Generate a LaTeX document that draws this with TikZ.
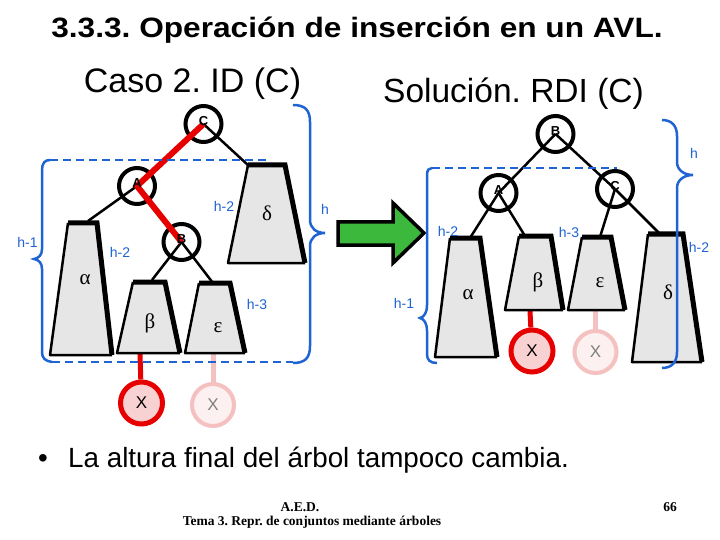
\documentclass[tikz,border=0pt]{standalone}
\usepackage{fontspec}
\usetikzlibrary{backgrounds}
\setmainfont{Liberation Sans}
\newfontfamily\arialf{Liberation Sans}
\newfontfamily\serif{Liberation Serif}
\frenchspacing
\definecolor{hblue}{RGB}{30,100,210}
\definecolor{arrowgreen}{RGB}{60,185,60}
\definecolor{treegray}{RGB}{230,230,230}
\definecolor{xred}{RGB}{230,0,0}
\definecolor{xpink}{RGB}{248,210,210}
\definecolor{fadeborder}{RGB}{245,192,192}
\definecolor{fadefill}{RGB}{252,240,240}
\tikzset{
  treefill/.style={fill=treegray},
  treethin/.style={draw=black,line width=2.5pt,line join=round},
  treethick/.style={draw=black,line width=5pt,line join=miter},
  greek/.style={font=\serif\fontsize{21}{21}\selectfont,inner sep=0pt},
  treenode/.style={circle,draw=black,line width=4pt,minimum size=36pt,inner sep=0pt},
  nodelabel/.style={font=\arialf\bfseries\fontsize{13}{13}\selectfont,inner sep=0pt,yshift=2.5pt},
  xnode/.style={circle,draw=xred,fill=xpink,line width=5pt,minimum size=42pt,inner sep=0pt,font=\arialf\fontsize{17}{17}\selectfont},
  xfaded/.style={circle,draw=fadeborder,fill=fadefill,line width=4pt,minimum size=42pt,inner sep=0pt,text=gray,font=\arialf\fontsize{17}{17}\selectfont},
  blackedge/.style={draw=black,line width=2.5pt},
  rededge/.style={draw=xred,line width=6pt},
  redstem/.style={draw=xred,line width=5pt},
  fadestem/.style={draw=fadeborder,line width=5pt},
  hbrace/.style={draw=hblue,line width=2.5pt},
  hdash/.style={draw=hblue,line width=2.5pt,dash pattern=on 8pt off 5pt},
  hlabel/.style={text=hblue,font=\arialf\fontsize{14}{14}\selectfont,inner sep=0pt}
}
% #1 name #2 tlx #3 trx #4 ty #5 blx #6 brx #7 by #8 label pos #9 label
\newcommand\subtree[9]{%
  \path[treefill] (#2,#4) -- (#3,#4) -- (#6,#7) -- (#5,#7) -- cycle;
  \draw[treethin] (#2,#4) -- (#5,#7) -- (#6,#7);
  \draw[treethick] (#2,#4) -- (#3,#4) -- (#6,#7);
  \node[greek] (#1) at (#8) {#9};
}
\begin{document}
\begin{tikzpicture}[x=1pt,y=-1pt]
\useasboundingbox (0,0) rectangle (720,540);
\begin{pgfonlayer}{background}
\fill[white] (0,0) rectangle (720,540);
\end{pgfonlayer}

% titles
\node[anchor=base,font=\arialf\bfseries\fontsize{28}{30}\selectfont,xscale=1.13,inner sep=0pt] (title) at (357,38) {3.3.3. Operación de inserción en un AVL.};
\node[anchor=base,font=\arialf\fontsize{34}{36}\selectfont,inner sep=0pt] (caso) at (192.5,93) {Caso 2. ID (C)};
\node[anchor=base,font=\arialf\fontsize{33.5}{36}\selectfont,inner sep=0pt] (sol) at (513.5,103) {Solución. RDI (C)};

% ===== left tree =====
\subtree{la}{68}{97}{223}{50}{112}{355}{85,280}{α}
\subtree{lb}{133}{165}{282}{117}{180}{353}{150,323}{β}
\subtree{le}{199}{230}{283}{185}{245}{353}{218,328}{ε}
\subtree{ld}{248}{285}{165}{228}{305}{263}{267,213}{δ}

\coordinate (laT) at (88,221);
\coordinate (lbT) at (152,280);
\coordinate (leT) at (213,283);
\coordinate (ldT) at (249,166);
\coordinate (lbB) at (140,354);
\coordinate (leB) at (213,354);

\node[treenode] (lC) at (203.5,124) {};
\node[treenode] (lA) at (137,186) {};
\node[treenode] (lB) at (181.5,242) {};

\draw[blackedge] (lC.center) -- (ldT);
\draw[blackedge] (lA.center) -- (laT);
\draw[blackedge] (lB.center) -- (lbT);
\draw[blackedge] (lB.center) -- (leT);
\draw[rededge] (lC.center) -- (lA.center) -- (lB.center);

\node[nodelabel] (lCl) at (lC) {C};
\node[nodelabel] (lAl) at (lA) {A};
\node[nodelabel] (lBl) at (lB) {B};

\node[xnode] (lX) at (141.5,403) {X};
\node[xfaded] (lXf) at (213,405) {X};
\begin{pgfonlayer}{background}
\draw[redstem] (lbB) -- (lX);
\draw[fadestem] (leB) -- (lXf);
\end{pgfonlayer}

% braces left
\draw[hbrace] (50,160) .. controls (45,160) and (42,163) .. (42,170) -- (42,249)
  .. controls (42,255) and (39,258) .. (34,259)
  .. controls (39,260) and (42,263) .. (42,269) -- (42,352)
  .. controls (42,358) and (45,361) .. (52,362);
\draw[hdash] (50,160) -- (270,160);
\draw[hdash] (52,362) -- (293,362);
\draw[hbrace] (293,105) .. controls (305,105) and (310,110) .. (310,122) -- (310,220)
  .. controls (310,228) and (316,233) .. (325,233)
  .. controls (316,233) and (310,238) .. (310,246) -- (310,346)
  .. controls (310,358) and (305,363) .. (293,363);

\node[hlabel] (lh1) at (27.5,242) {h-1};
\node[hlabel] (lh2a) at (120,252) {h-2};
\node[hlabel] (lh2d) at (224,206) {h-2};
\node[hlabel] (lh3) at (257,304) {h-3};
\node[hlabel] (lh) at (325,209) {h};

% green arrow
\draw[fill=arrowgreen,draw=black,line width=3.5pt,line join=miter]
  (338,222) -- (393,222) -- (393,203) -- (424,233) -- (393,263) -- (393,245) -- (338,245) -- cycle;

% ===== right tree =====
\subtree{ra}{450}{480}{238}{435}{497}{357}{468,295}{α}
\subtree{rb}{519}{551}{236}{505}{563}{310}{538,282}{β}
\subtree{re}{582}{611}{237}{568}{625}{310}{600,283}{ε}
\subtree{rd}{648}{683}{234}{632}{702}{362}{668,292}{δ}

\coordinate (raT) at (470,238);
\coordinate (rbT) at (525,236);
\coordinate (reT) at (600,237);
\coordinate (rdT) at (660,234);
\coordinate (rbB) at (530,311);
\coordinate (reB) at (595.5,311);

\node[treenode] (rB) at (555.5,134) {};
\node[treenode] (rA) at (498.5,193) {};
\node[treenode] (rC) at (615,189) {};

\draw[blackedge] (rB.center) -- (rA.center);
\draw[blackedge] (rB.center) -- (rC.center);
\draw[blackedge] (rA.center) -- (raT);
\draw[blackedge] (rA.center) -- (rbT);
\draw[blackedge] (rC.center) -- (reT);
\draw[blackedge] (rC.center) -- (rdT);

\node[nodelabel] (rBl) at (rB) {B};
\node[nodelabel] (rAl) at (rA) {A};
\node[nodelabel] (rCl) at (rC) {C};

\node[xnode] (rX) at (532,351) {X};
\node[xfaded] (rXf) at (595.5,352) {X};
\begin{pgfonlayer}{background}
\draw[redstem] (rbB) -- (rX);
\draw[fadestem] (reB) -- (rXf);
\end{pgfonlayer}

% braces right
\draw[hdash] (432,168) -- (617,168);
\draw[hbrace] (432,168) .. controls (429,168) and (427,170) .. (427,175) -- (427,305)
  .. controls (427,313) and (424,317) .. (420,318)
  .. controls (424,319) and (427,323) .. (427,331) -- (427,354)
  .. controls (427,360) and (430,363) .. (437,363);
\draw[hbrace] (662,120) .. controls (672,120) and (677,126) .. (677,136) -- (677,162)
  .. controls (677,170) and (684,175) .. (693,175)
  .. controls (684,175) and (677,180) .. (677,188) -- (677,352)
  .. controls (677,362) and (672,368) .. (662,368);

\node[hlabel] (rh) at (694,153) {h};
\node[hlabel] (rh2a) at (448,231) {h-2};
\node[hlabel] (rh3) at (569,232) {h-3};
\node[hlabel] (rh2d) at (699,247) {h-2};
\node[hlabel] (rh1) at (404,303) {h-1};

% bottom text
\node[anchor=base,font=\arialf\fontsize{27.8}{30}\selectfont,inner sep=0pt] (bullet) at (43,467) {•};
\node[anchor=base west,font=\arialf\fontsize{27.8}{30}\selectfont,inner sep=0pt] (final) at (68,467) {La altura final del árbol tampoco cambia.};

\node[anchor=base,font=\serif\bfseries\fontsize{13.5}{14}\selectfont,inner sep=0pt] (aed) at (300,511) {A.E.D.};
\node[anchor=base,font=\serif\bfseries\fontsize{13.5}{14}\selectfont,inner sep=0pt] (tema) at (312,525) {Tema 3. Repr. de conjuntos mediante árboles};
\node[anchor=base,font=\serif\bfseries\fontsize{13.5}{14}\selectfont,inner sep=0pt] (page) at (670,511) {66};
\end{tikzpicture}
\end{document}
